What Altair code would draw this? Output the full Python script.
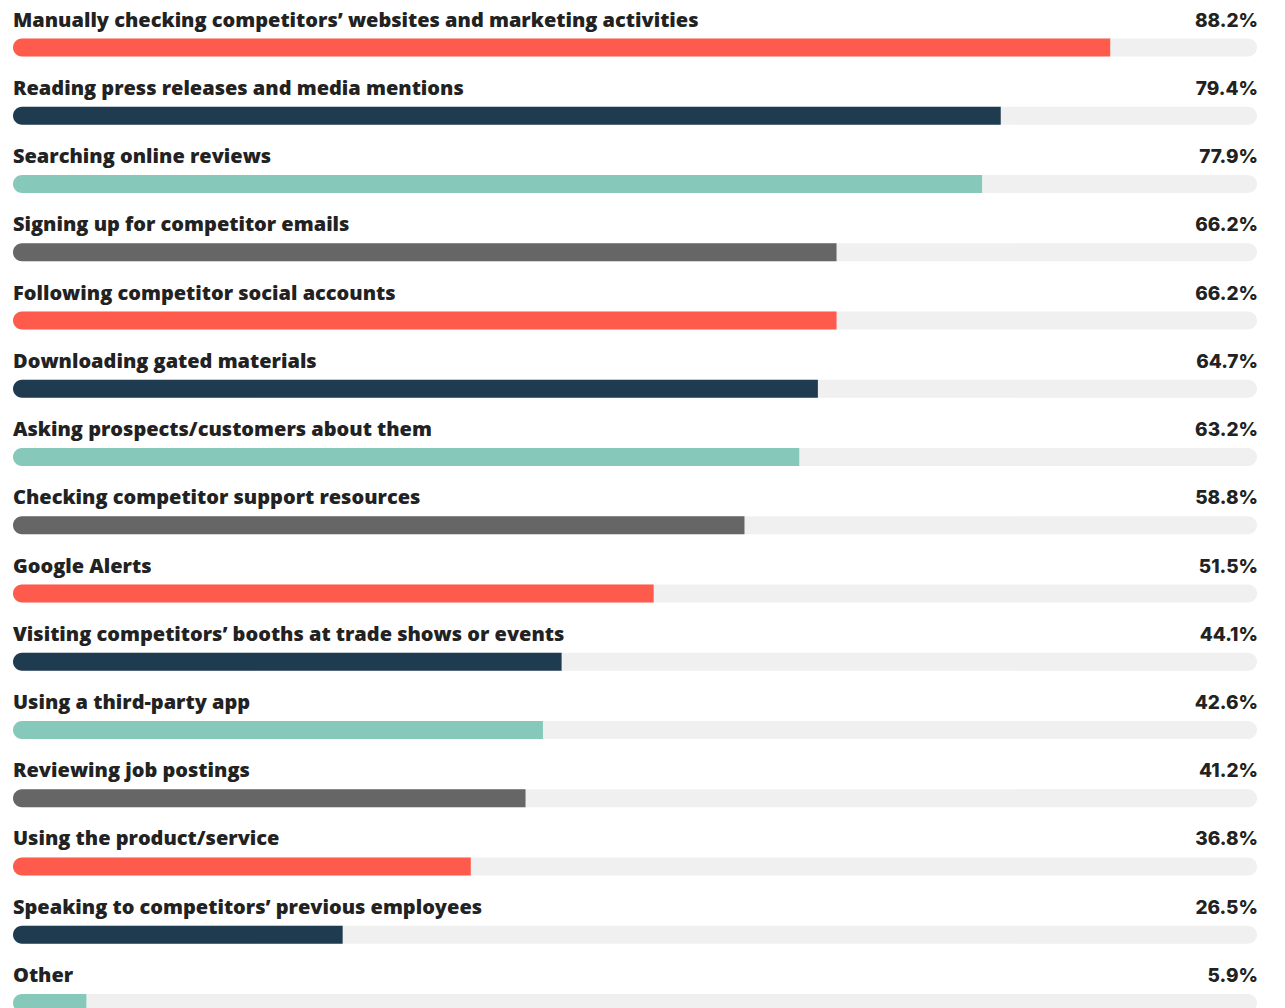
import altair as alt
import pandas as pd

categories = [
    "Manually checking competitors’ websites and marketing activities",
    "Reading press releases and media mentions",
    "Searching online reviews",
    "Signing up for competitor emails",
    "Following competitor social accounts",
    "Downloading gated materials",
    "Asking prospects/customers about them",
    "Checking competitor support resources",
    "Google Alerts",
    "Visiting competitors’ booths at trade shows or events",
    "Using a third-party app",
    "Reviewing job postings",
    "Using the product/service",
    "Speaking to competitors’ previous employees",
    "Other",
]
values = [88.2, 79.4, 77.9, 66.2, 66.2, 64.7, 63.2, 58.8, 51.5, 44.1, 42.6, 41.2, 36.8, 26.5, 5.9]
palette = ["#FF5B4C", "#1F3B50", "#86C9BA", "#666666"]

df = pd.DataFrame({
    "cat": categories,
    "value": values,
    "order": list(range(len(categories))),
    "color": [palette[i % 4] for i in range(len(categories))],
    "label": [f"{v:.1f}%" for v in values],
    "full": [100] * len(categories),
    "zero": [0] * len(categories),
})

y = alt.Y("cat:N", sort=alt.SortField("order"), axis=None,
          scale=alt.Scale(paddingInner=0, paddingOuter=0))
x_scale = alt.Scale(domain=[0, 100], nice=False, zero=True)

base = alt.Chart(df)

track = base.mark_bar(size=18, cornerRadius=9, color="#F0F0F0").encode(
    x=alt.X("zero:Q", scale=x_scale, axis=None), x2="full:Q", y=y)

bars = base.mark_bar(size=18, cornerRadiusTopLeft=9, cornerRadiusBottomLeft=9).encode(
    x=alt.X("zero:Q", scale=x_scale, axis=None), x2="value:Q", y=y,
    color=alt.Color("color:N", scale=None))

names = base.mark_text(align="left", baseline="middle", dy=-27, font="Open Sans",
                       fontWeight=800, fontSize=20, color="#222222").encode(
    x=alt.X("zero:Q", scale=x_scale, axis=None), y=y, text="cat:N")

pcts = base.mark_text(align="right", baseline="middle", dy=-27, dx=1, font="Inter",
                      fontWeight=800, fontSize=19, color="#222222").encode(
    x=alt.X("full:Q", scale=x_scale, axis=None), y=y, text="label:N")

chart = alt.layer(track, bars, names, pcts).properties(
    width=1245, height=15 * 68.3,
    autosize=alt.AutoSizeParams(type="none"),
    padding={"left": 5, "top": 5, "right": 20, "bottom": 0},
    background="white",
).configure_view(stroke=None)

chart.save("out.html", embed_options={"renderer": "svg", "actions": False})
